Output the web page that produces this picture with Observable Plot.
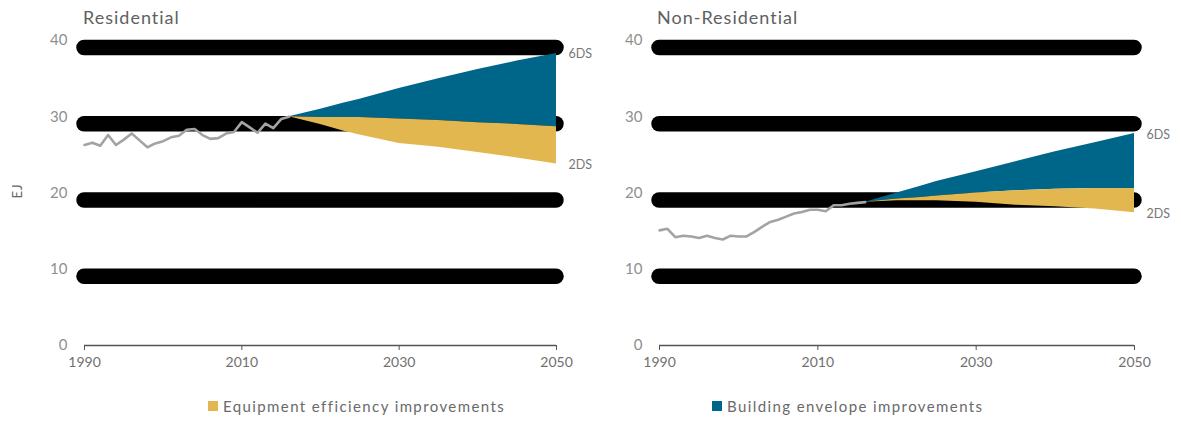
<!DOCTYPE html>
<html><head><meta charset="utf-8">
<script src="https://cdn.jsdelivr.net/npm/d3@7"></script>
<script src="https://cdn.jsdelivr.net/npm/@observablehq/plot@0.6"></script>
<style>
body{margin:0;background:#fff;font-family:Lato, "Open Sans", sans-serif;}
#wrap{position:relative;width:1181px;height:422px;overflow:hidden;background:#fff;}
.title{position:absolute;top:6px;font-size:18px;color:#5f5f5f;letter-spacing:1px;}
.ylab{position:absolute;left:9px;top:183px;font-size:13px;color:#666;transform:rotate(-90deg);transform-origin:center;letter-spacing:1px;}
.leg{position:absolute;top:397px;font-size:15px;color:#6a6a6a;letter-spacing:1.4px;display:flex;align-items:center;}
.sw{width:10px;height:10px;margin-right:5px;display:inline-block;}
.plot{position:absolute;top:0;}
</style></head><body><div id="wrap"></div>
<script>
const histYears = [1990,1991,1992,1993,1994,1995,1996,1997,1998,1999,2000,2001,2002,2003,2004,2005,2006,2007,2008,2009,2010,2011,2012,2013,2014,2015,2016];
const resHist = [26.3,26.6,26.2,27.6,26.3,27.0,27.8,26.9,26.0,26.5,26.8,27.3,27.5,28.3,28.4,27.6,27.1,27.2,27.8,28.0,29.3,28.6,27.9,29.1,28.5,29.7,30.0];
const nonResHist = [15.1,15.3,14.2,14.4,14.3,14.1,14.4,14.1,13.9,14.4,14.3,14.3,14.9,15.6,16.2,16.5,16.9,17.3,17.5,17.8,17.8,17.6,18.4,18.4,18.6,18.7,18.8];
const projYears = [2016,2020,2023,2025,2030,2035,2040,2045,2050];
const res6DS = [30.0,31.0,31.8,32.3,33.7,35.0,36.2,37.3,38.3];
const resMid = [30.0,29.9,29.9,29.9,29.7,29.5,29.2,29.0,28.7];
const res2DS = [30.0,29.0,28.1,27.6,26.5,26.0,25.3,24.6,23.8];
const non6DS = [18.8,20.0,20.9,21.5,22.8,24.1,25.4,26.6,27.8];
const nonMid = [18.8,19.2,19.4,19.6,20.0,20.3,20.5,20.6,20.6];
const non2DS = [18.8,19.0,19.0,19.0,18.8,18.4,18.2,17.9,17.4];
const gridValues = [10,20,30,40];
const xTicks = [1990,2010,2030,2050];
const yTicks = [0,10,20,30,40];
const titles = ["Residential","Non-Residential"];
const legendLabels = ["Equipment efficiency improvements","Building envelope improvements"];
const scenarioLabels = ["6DS","2DS"];
const BLUE = "#006689", YELLOW = "#e3b74f";

function panel(hist, top, mid, low, opt){
  const h = histYears.map((y,i)=>({year:y, v:hist[i]}));
  const p = projYears.map((y,i)=>({year:y, top:top[i], mid:mid[i], low:low[i]}));
  const ends = [{year:2050, v:top[top.length-1], t:scenarioLabels[0]},{year:2050, v:low[low.length-1], t:scenarioLabels[1]}];
  return Plot.plot({
    width: opt.width, height: 385,
    marginLeft: opt.ml, marginRight: opt.mr, marginTop: 40, marginBottom: 40,
    style:{background:"transparent", overflow:"visible", fontFamily:"Lato, sans-serif"},
    x:{domain:[1990,2050], ticks:xTicks, tickFormat:"d"},
    y:{domain:[0,40], ticks:yTicks},
    marks:[
      Plot.ruleY(gridValues, {y:d=>d, x1:()=>1990, x2:()=>2050, stroke:"#000", strokeWidth:15.5, strokeLinecap:"round", dy:7}),
      Plot.areaY(p, {x:"year", y1:"mid", y2:"top", fill:BLUE}),
      Plot.areaY(p, {x:"year", y1:"low", y2:"mid", fill:YELLOW}),
      Plot.line(h, {x:"year", y:"v", stroke:"#a3a3a3", strokeWidth:2.6}),
      Plot.ruleY([0], {x1:()=>1990, x2:()=>2050, stroke:"#555", strokeWidth:1.3}),
      Plot.axisX({ticks:xTicks, tickFormat:"d", tickSize:5, tickPadding:7, fontSize:14, stroke:"#555", fill:"#707070", label:null}),
      Plot.axisY({ticks:yTicks, tickSize:0, tickPadding:17, fontSize:15, fill:"#8f8f8f", label:null}),
      Plot.text(ends, {x:"year", y:"v", text:"t", dx:opt.dx, dy:opt.dyl, textAnchor:"start", fontSize:12.5, fill:"#777"})
    ]
  });
}
const wrap = document.getElementById("wrap");
const a = panel(resHist, res6DS, resMid, res2DS, {width:590, ml:84, mr:34, dx:12, dyl:1});
a.classList.add("plot"); a.style.left="0px"; wrap.appendChild(a);
const b = panel(nonResHist, non6DS, nonMid, non2DS, {width:591, ml:69, mr:47, dx:12, dyl:1});
b.classList.add("plot"); b.style.left="590px"; wrap.appendChild(b);

function div(cls, txt, left){ const d=document.createElement("div"); d.className=cls; d.textContent=txt; if(left!=null) d.style.left=left+"px"; wrap.appendChild(d); return d; }
div("title", titles[0], 83);
div("title", titles[1], 657);
div("ylab", "EJ");
[[208, YELLOW, legendLabels[0]],[712, BLUE, legendLabels[1]]].forEach(([l,c,t])=>{
  const d=document.createElement("div"); d.className="leg"; d.style.left=l+"px";
  const s=document.createElement("span"); s.className="sw"; s.style.background=c;
  d.appendChild(s); d.appendChild(document.createTextNode(t)); wrap.appendChild(d);
});
</script></body></html>
